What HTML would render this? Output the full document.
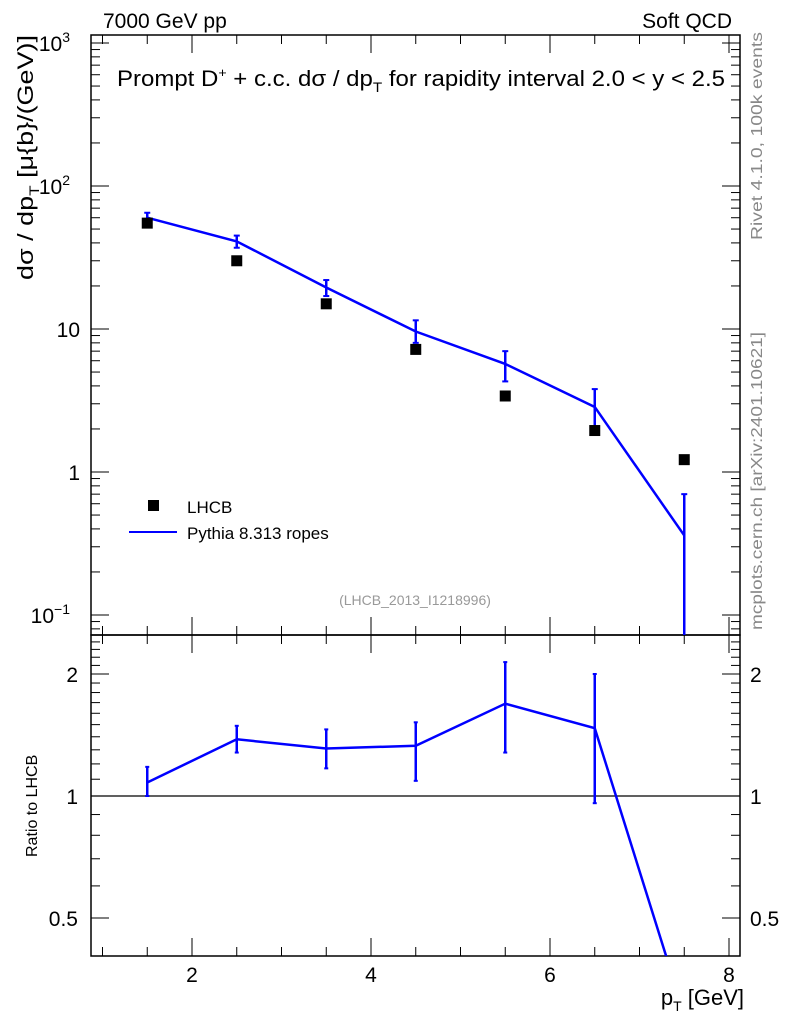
<!DOCTYPE html>
<html><head><meta charset="utf-8"><style>
html,body{margin:0;padding:0;background:#fff;overflow:hidden;width:786px;height:1024px;}
svg{display:block;font-family:"Liberation Sans",sans-serif;}
</style></head><body>
<svg id="c" width="786" height="1024" xmlns="http://www.w3.org/2000/svg"></svg>
<script>
const bins=[1.5,2.5,3.5,4.5,5.5,6.5,7.5];
const dataVals=[55,30,15,7.2,3.4,1.95,1.22];
const mcVals=[60,41,19.5,9.6,5.7,2.85,0.36];
const mcLo=[55,37,17,8,4.3,2.0,0.01];
const mcHi=[65,45,22,11.5,7.0,3.8,0.7];
const ratioVals=[1.08,1.38,1.31,1.33,1.69,1.47,0.29];
const ratioLo=[1.0,1.28,1.17,1.09,1.28,0.96,0.01];
const ratioHi=[1.18,1.49,1.46,1.52,2.14,2.0,0.35];
const xTicks=[2,4,6,8];
const yDecades=[-1,0,1,2,3];
const yTickLabels=["10","1","10","10","10"];
const ySup=["−1","","","2","3"];
const rTicks=[0.5,1,2];

const NS="http://www.w3.org/2000/svg";
const svg=document.getElementById('c');
const L=91,R=740,T=35,MB=635,RB=956;
const X=v=>192+(v-2)*89.5;
const Y=v=>472-Math.log10(v)*143;
const RY=v=>796-Math.log2(v)*122;
function el(t,a,p){const e=document.createElementNS(NS,t);for(const k in a)e.setAttribute(k,a[k]);(p||svg).appendChild(e);return e;}
function txt(s,a,p){const e=el('text',a,p);e.textContent=s;return e;}

const defs=el('defs',{});
const c1=el('clipPath',{id:'cm'},defs);el('rect',{x:L,y:T,width:R-L,height:MB-T},c1);
const c2=el('clipPath',{id:'cr'},defs);el('rect',{x:L,y:MB,width:R-L,height:RB-MB},c2);

let f=el('rect',{x:L,y:T,width:R-L,height:MB-T,fill:'none',stroke:'#000','stroke-width':1.5});

f=el('rect',{x:L,y:MB,width:R-L,height:RB-MB,fill:'none',stroke:'#000','stroke-width':1.5});


for(let v=1;v<=8;v+=0.5){
  const x=X(v);if(x<L||x>R)continue;
  const big=Number.isInteger(v)&&v%2===0;const len=big?18:9;
  for(const [y0,y1] of [[MB,MB-len],[T,T+len],[RB,RB-len],[MB,MB+len]]){
    el('line',{x1:x,x2:x,y1:y0,y2:y1,stroke:'#000','stroke-width':1});
  }
}
xTicks.forEach(v=>{const t=txt(String(v),{x:X(v),y:982,'font-size':21,'text-anchor':'middle'});
});

for(let d=-2;d<=3;d++){
  for(let m=1;m<10;m++){
    const v=m*Math.pow(10,d);const y=Y(v);if(y<T||y>MB)continue;
    const len=m===1?18:9;
    el('line',{x1:L,x2:L+len,y1:y,y2:y,stroke:'#000'});
    el('line',{x1:R,x2:R-len,y1:y,y2:y,stroke:'#000'});
  }
}
yDecades.forEach((d,i)=>{
  const y=Y(Math.pow(10,d));
  const g=el('text',{x:ySup[i]?70:80,y:y+8,'font-size':21,'text-anchor':'end'});
  
  g.textContent=yTickLabels[i];
  if(ySup[i]){const s=el('tspan',{dy:-9,'font-size':14},g);s.textContent=ySup[i];}
});

for(let v=0.4;v<=2.5;v+=0.1){
  const y=RY(v);if(y<MB||y>RB)continue;
  const big=[0.5,1,2].some(q=>Math.abs(q-v)<1e-6);const len=big?18:9;
  el('line',{x1:L,x2:L+len,y1:y,y2:y,stroke:'#000'});
  el('line',{x1:R,x2:R-len,y1:y,y2:y,stroke:'#000'});
}
rTicks.forEach(v=>{
  let t=txt(String(v),{x:78,y:RY(v)+8,'font-size':21,'text-anchor':'end'});
  
  t=txt(String(v),{x:750,y:RY(v)+8,'font-size':21});
  
});
let ln=el('line',{x1:L,x2:R,y1:RY(1),y2:RY(1),stroke:'#000','stroke-width':1.2});


const gm=el('g',{'clip-path':'url(#cm)'});
let pl=el('polyline',{points:bins.map((b,i)=>X(b)+','+Y(mcVals[i])).join(' '),fill:'none',stroke:'#0000ff','stroke-width':2.5},gm);

bins.forEach((b,i)=>{
  const x=X(b);
  const e=el('line',{x1:x,x2:x,y1:Y(mcLo[i]),y2:Y(mcHi[i]),stroke:'#0000ff','stroke-width':2.5},gm);
  
  el('line',{x1:x-3,x2:x+3,y1:Y(mcLo[i]),y2:Y(mcLo[i]),stroke:'#0000ff','stroke-width':2},gm);
  el('line',{x1:x-3,x2:x+3,y1:Y(mcHi[i]),y2:Y(mcHi[i]),stroke:'#0000ff','stroke-width':2},gm);
});
bins.forEach((b,i)=>{
  const r=el('rect',{x:X(b)-5.5,y:Y(dataVals[i])-5.5,width:11,height:11,fill:'#000'},gm);
  
});

const gr=el('g',{'clip-path':'url(#cr)'});
pl=el('polyline',{points:bins.map((b,i)=>X(b)+','+RY(ratioVals[i])).join(' '),fill:'none',stroke:'#0000ff','stroke-width':2.5},gr);

bins.forEach((b,i)=>{
  const x=X(b);
  const e=el('line',{x1:x,x2:x,y1:RY(ratioLo[i]),y2:RY(ratioHi[i]),stroke:'#0000ff','stroke-width':2.5},gr);
  
  el('line',{x1:x-2,x2:x+2,y1:RY(ratioLo[i]),y2:RY(ratioLo[i]),stroke:'#0000ff','stroke-width':2},gr);
  el('line',{x1:x-2,x2:x+2,y1:RY(ratioHi[i]),y2:RY(ratioHi[i]),stroke:'#0000ff','stroke-width':2},gr);
});

let t=txt('7000 GeV pp',{x:103,y:28,'font-size':21});

t=txt('Soft QCD',{x:732,y:28,'font-size':21,'text-anchor':'end'});

t=el('text',{x:117,y:86,'font-size':22,textLength:608,lengthAdjust:'spacingAndGlyphs'});

t.innerHTML='Prompt D<tspan dy="-9" font-size="13">+</tspan><tspan dy="9"> + c.c.  dσ / dp</tspan><tspan dy="6" font-size="14">T</tspan><tspan dy="-6"> for rapidity interval 2.0 &lt; y &lt; 2.5</tspan>';
t=el('text',{x:0,y:0,'font-size':22,textLength:245,lengthAdjust:'spacingAndGlyphs',transform:'translate(33,280) rotate(-90)'});

t.innerHTML='dσ / dp<tspan dy="6" font-size="14">T</tspan><tspan dy="-6"> [μ{b}/(GeV)]</tspan>';
t=txt('Ratio to LHCB',{x:0,y:0,'font-size':16,transform:'translate(37,857) rotate(-90)'});

t=el('text',{x:744,y:1005,'font-size':22,'text-anchor':'end'});

t.innerHTML='p<tspan dy="6" font-size="14">T</tspan><tspan dy="-6"> [GeV]</tspan>';
t=txt('Rivet 4.1.0,  100k events',{x:0,y:0,'font-size':16,fill:'#888',textLength:208,lengthAdjust:'spacingAndGlyphs',transform:'translate(762,240) rotate(-90)'});

t=txt('mcplots.cern.ch [arXiv:2401.10621]',{x:0,y:0,'font-size':16,fill:'#888',textLength:298,lengthAdjust:'spacingAndGlyphs',transform:'translate(762,630) rotate(-90)'});

t=txt('(LHCB_2013_I1218996)',{x:415,y:605,'font-size':14,fill:'#999','text-anchor':'middle'});


let r=el('rect',{x:148,y:500,width:11,height:11,fill:'#000'});

t=txt('LHCB',{x:187,y:513,'font-size':17});

ln=el('line',{x1:129,x2:177,y1:532,y2:532,stroke:'#0000ff','stroke-width':2});

t=txt('Pythia 8.313 ropes',{x:187,y:539,'font-size':17});

</script>
</body></html>
